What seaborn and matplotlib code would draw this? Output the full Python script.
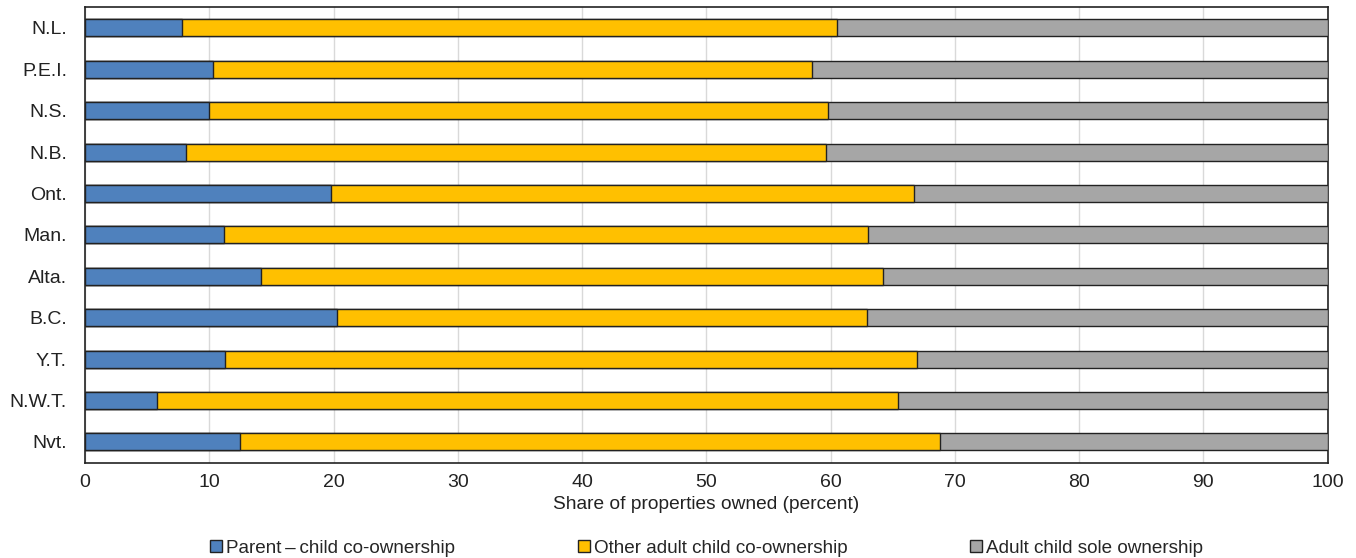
import matplotlib
matplotlib.use("Agg")
import matplotlib.pyplot as plt
import seaborn as sns
import pandas as pd
import numpy as np
from matplotlib.patches import Patch

provinces = ["N.L.", "P.E.I.", "N.S.", "N.B.", "Ont.", "Man.", "Alta.", "B.C.", "Y.T.", "N.W.T.", "Nvt."]
parent_child = [7.8, 10.3, 10.0, 8.1, 19.8, 11.2, 14.2, 20.3, 11.3, 5.8, 12.5]
other_adult = [52.7, 48.2, 49.8, 51.5, 46.9, 51.8, 50.0, 42.6, 55.7, 59.6, 56.3]
sole_owner = [39.5, 41.5, 40.2, 40.4, 33.3, 37.0, 35.8, 37.1, 33.0, 34.6, 31.2]
series_names = ["Parent\u2009\u2013\u2009child co-ownership", "Other adult child co-ownership", "Adult child sole ownership"]
colors = ["#4f81bd", "#ffc000", "#a6a6a6"]

sns.set_theme(style="white")
plt.rcParams["font.family"] = ["Liberation Sans", "DejaVu Sans"]

df = pd.DataFrame({"prov": provinces, "a": parent_child, "b": other_adult, "c": sole_owner})
df["cum1"] = df["a"]
df["cum2"] = df["a"] + df["b"]
df["cum3"] = df["a"] + df["b"] + df["c"]

fig, ax = plt.subplots(figsize=(13.56, 5.58), dpi=100)
fig.subplots_adjust(left=0.0627, right=0.979, top=0.987, bottom=0.171)

for col, c in zip(["cum3", "cum2", "cum1"], colors[::-1]):
    sns.barplot(data=df, x=col, y="prov", order=provinces, color=c, orient="h",
                width=0.41, edgecolor="#222222", linewidth=1.0, saturation=1, ax=ax, zorder=3)

ax.set_xlim(0, 100)
ax.set_xticks(np.arange(0, 101, 10))
ax.xaxis.grid(True, color="#d9d9d9", linewidth=1.0, zorder=0)
ax.set_axisbelow(True)
ax.set_ylabel("")
ax.set_xlabel("Share of properties owned (percent)", fontsize=13.8, color="#222222", labelpad=4)
ax.tick_params(axis="x", labelsize=14, colors="#222222", length=0, pad=8)
ax.tick_params(axis="y", labelsize=14, colors="#222222", length=0, pad=13)
for s in ax.spines.values():
    s.set_visible(True)
    s.set_color("#222222")
    s.set_linewidth(1.2)

handles = [Patch(facecolor=c, edgecolor="#222222", linewidth=1.0) for c in colors]
fig.legend(handles, series_names, loc="lower center", bbox_to_anchor=(0.521, -0.028), ncol=3,
           frameon=False, fontsize=13.6, handlelength=0.65, handleheight=0.65,
           handletextpad=0.2, columnspacing=6.5)

fig.savefig("out.png", dpi=100)
